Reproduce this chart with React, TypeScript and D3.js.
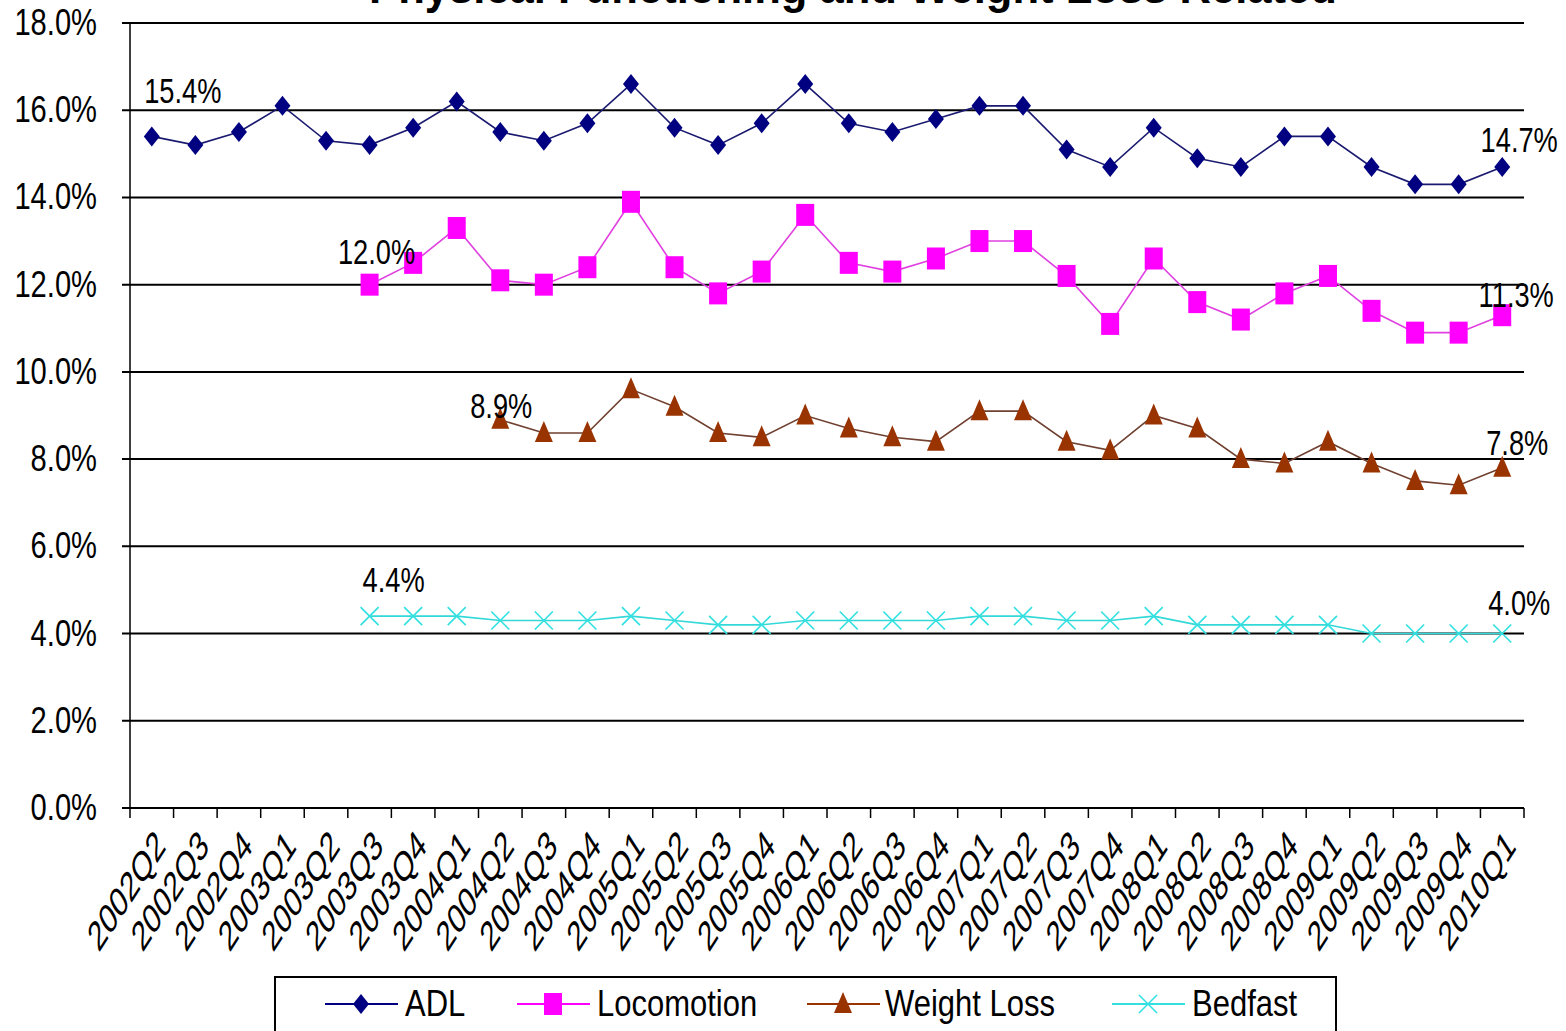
import React from "react";
import * as d3 from "d3";

const categories = [
  "2002Q2","2002Q3","2002Q4","2003Q1","2003Q2","2003Q3","2003Q4","2004Q1",
  "2004Q2","2004Q3","2004Q4","2005Q1","2005Q2","2005Q3","2005Q4","2006Q1",
  "2006Q2","2006Q3","2006Q4","2007Q1","2007Q2","2007Q3","2007Q4","2008Q1",
  "2008Q2","2008Q3","2008Q4","2009Q1","2009Q2","2009Q3","2009Q4","2010Q1",
];

const adl = [15.4,15.2,15.5,16.1,15.3,15.2,15.6,16.2,15.5,15.3,15.7,16.6,15.6,15.2,15.7,16.6,
  15.7,15.5,15.8,16.1,16.1,15.1,14.7,15.6,14.9,14.7,15.4,15.4,14.7,14.3,14.3,14.7];
const locomotion = [null,null,null,null,null,12.0,12.5,13.3,12.1,12.0,12.4,13.9,12.4,11.8,12.3,13.6,
  12.5,12.3,12.6,13.0,13.0,12.2,11.1,12.6,11.6,11.2,11.8,12.2,11.4,10.9,10.9,11.3];
const weightLoss = [null,null,null,null,null,null,null,null,8.9,8.6,8.6,9.6,9.2,8.6,8.5,9.0,
  8.7,8.5,8.4,9.1,9.1,8.4,8.2,9.0,8.7,8.0,7.9,8.4,7.9,7.5,7.4,7.8];
const bedfast = [null,null,null,null,null,4.4,4.4,4.4,4.3,4.3,4.3,4.4,4.3,4.2,4.2,4.3,
  4.3,4.3,4.3,4.4,4.4,4.3,4.3,4.4,4.2,4.2,4.2,4.2,4.0,4.0,4.0,4.0];

const yTicks = [0, 2, 4, 6, 8, 10, 12, 14, 16, 18];
const seriesNames = ["ADL", "Locomotion", "Weight Loss", "Bedfast"];
const title = "Physical Functioning and Weight Loss Related";

const W = 1566, H = 1031;
const M = { left: 130, right: 1524, top: 23, bottom: 808 };
const FONT = "'Liberation Sans', Arial, sans-serif";
const SY = 1.18;

type S = { name: string; values: (number | null)[]; color: string; line: string; marker: string };
const series: S[] = [
  { name: seriesNames[0], values: adl, color: "#000080", line: "#1a1a70", marker: "diamond" },
  { name: seriesNames[1], values: locomotion, color: "#FF00FF", line: "#e040e0", marker: "square" },
  { name: seriesNames[2], values: weightLoss, color: "#993300", line: "#704030", marker: "triangle" },
  { name: seriesNames[3], values: bedfast, color: "#33E0E0", line: "#33D8D8", marker: "x" },
];

function T({ x, y, size, anchor, children, sx = 0.94, sy = SY, weight }: any) {
  return (
    <text
      transform={`translate(${x},${y}) scale(${sx},${sy})`}
      textAnchor={anchor || "start"}
      fontSize={size}
      fontWeight={weight}
      fill="#000"
    >
      {children}
    </text>
  );
}

function Marker({ kind, x, y, color }: { kind: string; x: number; y: number; color: string }) {
  if (kind === "diamond") {
    return <path d={`M${x},${y - 10} L${x + 8},${y} L${x},${y + 10} L${x - 8},${y} Z`} fill={color} />;
  }
  if (kind === "square") {
    return <rect x={x - 9} y={y - 11} width={18} height={22} fill={color} />;
  }
  if (kind === "triangle") {
    return <path d={`M${x},${y - 12} L${x + 9},${y + 9} L${x - 9},${y + 9} Z`} fill={color} />;
  }
  return (
    <g stroke={color} strokeWidth={1.6}>
      <line x1={x - 9} y1={y - 9} x2={x + 9} y2={y + 9} />
      <line x1={x - 9} y1={y + 9} x2={x + 9} y2={y - 9} />
    </g>
  );
}

export default function App() {
  const x = d3.scaleBand<string>().domain(categories).range([M.left, M.right]);
  const y = d3.scaleLinear().domain([0, 18]).range([M.bottom, M.top]);
  const cx = (c: string) => (x(c) as number) + x.bandwidth() / 2;

  const line = d3
    .line<[string, number | null]>()
    .defined((d) => d[1] != null)
    .x((d) => cx(d[0]))
    .y((d) => y(d[1] as number));

  const labelFor = (s: S) => {
    const idx = s.values.map((v, i) => (v != null ? i : -1)).filter((i) => i >= 0);
    return { first: idx[0], last: idx[idx.length - 1] };
  };

  const firstOff = [
    { dx: 31, dy: -33 },
    { dx: 7, dy: -21 },
    { dx: 1, dy: -2 },
    { dx: 24, dy: -24 },
  ];
  const lastOff = [
    { dx: 17, dy: -15 },
    { dx: 14, dy: -8 },
    { dx: 15, dy: -13 },
    { dx: 17, dy: -19 },
  ];

  const bandEdges = categories.map((c) => x(c) as number).concat([M.right]);

  const legendItems = [
    { lx: 325, tx: 405 },
    { lx: 517, tx: 597 },
    { lx: 807, tx: 885 },
    { lx: 1112, tx: 1192 },
  ];

  return (
    <svg width={W} height={H} style={{ display: "block", position: "absolute", left: 0, top: 0 }} fontFamily={FONT}>
      <rect width={W} height={H} fill="#fff" />
      <T x={853} y={3} size={40} anchor="middle" weight="bold" sx={1.09} sy={1.15}>
        {title}
      </T>
      {yTicks.map((t) => (
        <line key={t} x1={M.left - 8} x2={M.right} y1={y(t)} y2={y(t)} stroke="#000" strokeWidth={2} />
      ))}
      <line x1={M.left} x2={M.left} y1={M.top} y2={M.bottom} stroke="#000" strokeWidth={1.5} />
      {yTicks.map((t) => (
        <T key={t} x={97} y={y(t) + 12} size={31} anchor="end">
          {t.toFixed(1)}%
        </T>
      ))}
      {bandEdges.map((e, i) => (
        <line key={i} x1={e} x2={e} y1={M.bottom} y2={M.bottom + 10} stroke="#000" strokeWidth={1.5} />
      ))}
      {categories.map((c) => (
        <text
          key={c}
          transform={`translate(${cx(c) + 15},${M.bottom + 40}) scale(1,1.55) rotate(-45)`}
          textAnchor="end"
          fontSize={27}
          fill="#000"
        >
          {c}
        </text>
      ))}
      {series.map((s) => {
        const pts = categories.map((c, i) => [c, s.values[i]] as [string, number | null]);
        return (
          <g key={s.name}>
            <path d={line(pts) || ""} fill="none" stroke={s.line} strokeWidth={1.6} />
            {pts.map(([c, v]) =>
              v == null ? null : <Marker key={c} kind={s.marker} x={cx(c)} y={y(v)} color={s.color} />
            )}
          </g>
        );
      })}
      {series.map((s, k) => {
        const { first, last } = labelFor(s);
        const f = s.values[first] as number;
        const l = s.values[last] as number;
        return (
          <g key={s.name}>
            <T x={cx(categories[first]) + firstOff[k].dx} y={y(f) + firstOff[k].dy} size={29} anchor="middle">
              {f.toFixed(1)}%
            </T>
            <T x={cx(categories[last]) + lastOff[k].dx} y={y(l) + lastOff[k].dy} size={29} anchor="middle">
              {l.toFixed(1)}%
            </T>
          </g>
        );
      })}
      <rect x={275} y={977} width={1061} height={60} fill="#fff" stroke="#000" strokeWidth={2} />
      {series.map((s, k) => (
        <g key={s.name}>
          <line x1={legendItems[k].lx} x2={legendItems[k].lx + 73} y1={1004} y2={1004} stroke={s.color} strokeWidth={2} />
          <Marker kind={s.marker} x={legendItems[k].lx + 36} y={1004} color={s.color} />
          <T x={legendItems[k].tx} y={1016} size={31} sx={1}>
            {s.name}
          </T>
        </g>
      ))}
    </svg>
  );
}
